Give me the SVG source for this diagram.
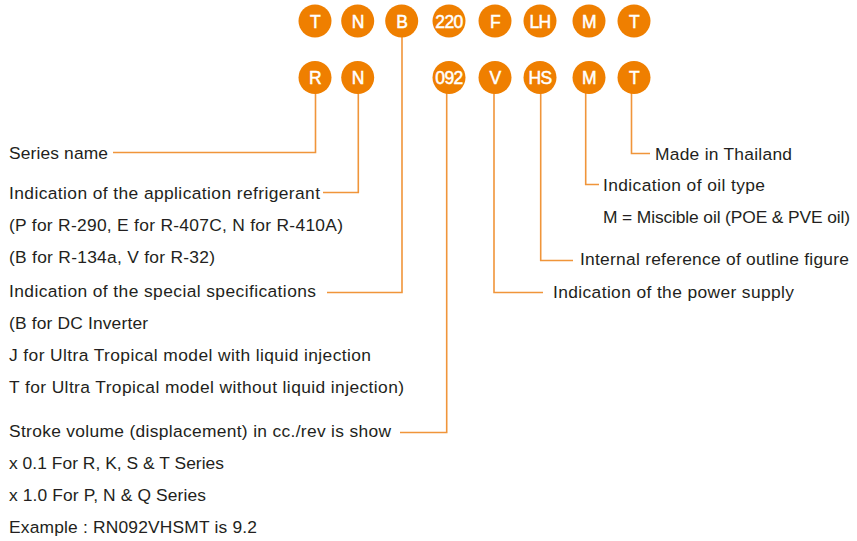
<svg xmlns="http://www.w3.org/2000/svg" width="857" height="541" viewBox="0 0 857 541">
  <style>
    .dot { fill: #EF7F00; }
    .code { font-family: "Liberation Sans", Arial, sans-serif; font-size: 17.5px; fill: #ffffff; stroke: #ffffff; stroke-width: 0.5px; text-anchor: middle; letter-spacing: -0.6px; }
    .lbl { font-family: "Liberation Sans", Arial, sans-serif; font-size: 17.4px; fill: #231f20; }
    .lead { fill: none; stroke: #F0953A; stroke-width: 1.6; }
  </style>
  <rect width="857" height="541" fill="#ffffff"/>

  <!-- leader lines from the code letters to their descriptions -->
  <g id="connectors">
    <polyline class="lead" points="315.5,93 315.5,152.5 113,152.5"/>
    <polyline class="lead" points="358.3,93 358.3,192.5 323,192.5"/>
    <polyline class="lead" points="402,37 402,292.5 327,292.5"/>
    <polyline class="lead" points="446.7,93 446.7,432.5 400,432.5"/>
    <polyline class="lead" points="494,93 494,292.5 543,292.5"/>
    <polyline class="lead" points="540.7,93 540.7,260.5 573,260.5"/>
    <polyline class="lead" points="585.7,93 585.7,184.5 599,184.5"/>
    <polyline class="lead" points="631.5,93 631.5,153.5 650,153.5"/>
  </g>

  <!-- top row: TNB220FLHMT -->
  <g id="top-T"><circle class="dot" cx="315" cy="21" r="16.5"/><text class="code" x="315" y="27.5">T</text></g>
  <g id="top-N"><circle class="dot" cx="357.7" cy="21" r="16.5"/><text class="code" x="357.7" y="27.5">N</text></g>
  <g id="top-B"><circle class="dot" cx="401.7" cy="21" r="16.5"/><text class="code" x="401.7" y="27.5">B</text></g>
  <g id="top-220"><circle class="dot" cx="449" cy="21" r="16.5"/><text class="code" x="449" y="27.5">220</text></g>
  <g id="top-F"><circle class="dot" cx="495" cy="21" r="16.5"/><text class="code" x="495" y="27.5">F</text></g>
  <g id="top-LH"><circle class="dot" cx="540" cy="21" r="16.5"/><text class="code" x="540" y="27.5">LH</text></g>
  <g id="top-M"><circle class="dot" cx="589" cy="21" r="16.5"/><text class="code" x="589" y="27.5">M</text></g>
  <g id="top-T2"><circle class="dot" cx="634" cy="21" r="16.5"/><text class="code" x="634" y="27.5">T</text></g>

  <!-- bottom row: RN092VHSMT -->
  <g id="row-R"><circle class="dot" cx="315" cy="77.5" r="16.5"/><text class="code" x="315" y="83.5">R</text></g>
  <g id="row-N"><circle class="dot" cx="357.7" cy="77.5" r="16.5"/><text class="code" x="357.7" y="83.5">N</text></g>
  <g id="row-092"><circle class="dot" cx="449" cy="77.5" r="16.5"/><text class="code" x="449" y="83.5">092</text></g>
  <g id="row-V"><circle class="dot" cx="495" cy="77.5" r="16.5"/><text class="code" x="495" y="83.5">V</text></g>
  <g id="row-HS"><circle class="dot" cx="540" cy="77.5" r="16.5"/><text class="code" x="540" y="83.5">HS</text></g>
  <g id="row-M"><circle class="dot" cx="589" cy="77.5" r="16.5"/><text class="code" x="589" y="83.5">M</text></g>
  <g id="row-T"><circle class="dot" cx="634" cy="77.5" r="16.5"/><text class="code" x="634" y="83.5">T</text></g>

  <!-- descriptions, left column -->
  <g id="desc-series"><text class="lbl" x="9" y="158.5" textLength="99" lengthAdjust="spacing">Series name</text></g>
  <g id="desc-refrigerant">
    <text class="lbl" x="9" y="198.5" textLength="311" lengthAdjust="spacing">Indication of the application refrigerant</text>
    <text class="lbl" x="9" y="230.5" textLength="334" lengthAdjust="spacing">(P for R-290, E for R-407C, N for R-410A)</text>
    <text class="lbl" x="9" y="262.5" textLength="206" lengthAdjust="spacing">(B for R-134a, V for R-32)</text>
  </g>
  <g id="desc-special">
    <text class="lbl" x="9" y="296.5" textLength="307" lengthAdjust="spacing">Indication of the special specifications</text>
    <text class="lbl" x="9" y="328.5" textLength="139" lengthAdjust="spacing">(B for DC Inverter</text>
    <text class="lbl" x="9" y="360.5" textLength="362" lengthAdjust="spacing">J for Ultra Tropical model with liquid injection</text>
    <text class="lbl" x="9" y="392.5" textLength="395" lengthAdjust="spacing">T for Ultra Tropical model without liquid injection)</text>
  </g>
  <g id="desc-stroke">
    <text class="lbl" x="9" y="436.5" textLength="382" lengthAdjust="spacing">Stroke volume (displacement) in cc./rev is show</text>
    <text class="lbl" x="9" y="468.5" textLength="215" lengthAdjust="spacing">x 0.1 For R, K, S &amp; T Series</text>
    <text class="lbl" x="9" y="500.5" textLength="197" lengthAdjust="spacing">x 1.0 For P, N &amp; Q Series</text>
    <text class="lbl" x="9" y="532.5" textLength="248" lengthAdjust="spacing">Example : RN092VHSMT is 9.2</text>
  </g>

  <!-- descriptions, right column -->
  <g id="desc-thailand"><text class="lbl" x="655" y="159.5" textLength="137" lengthAdjust="spacing">Made in Thailand</text></g>
  <g id="desc-oil">
    <text class="lbl" x="603" y="190.5" textLength="162" lengthAdjust="spacing">Indication of oil type</text>
    <text class="lbl" x="603" y="222.5" textLength="247" lengthAdjust="spacing">M = Miscible oil (POE &amp; PVE oil)</text>
  </g>
  <g id="desc-outline"><text class="lbl" x="580" y="264.5" textLength="269" lengthAdjust="spacing">Internal reference of outline figure</text></g>
  <g id="desc-power"><text class="lbl" x="553" y="297.5" textLength="241" lengthAdjust="spacing">Indication of the power supply</text></g>
</svg>
